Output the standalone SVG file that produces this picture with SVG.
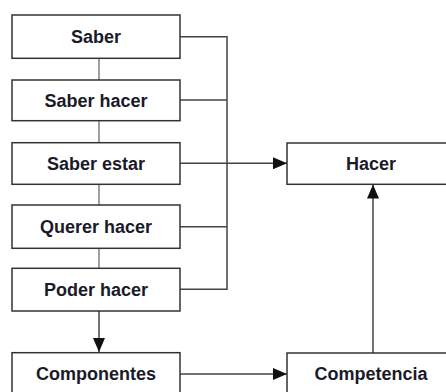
<svg xmlns="http://www.w3.org/2000/svg" width="446" height="392" viewBox="0 0 446 392">
<style>
.box{fill:#fff;stroke:#333;stroke-width:1.5}
.lbl{font-family:"Liberation Sans",Arial,sans-serif;font-weight:bold;font-size:18px;fill:#1a1a2a;text-anchor:middle}
.ln{fill:none;stroke:#444;stroke-width:1.5}
.chain{fill:none;stroke:#808080;stroke-width:1.5}
</style>
<defs>
<marker id="ah" viewBox="0 0 14 12" refX="14" refY="6" markerWidth="14" markerHeight="12" markerUnits="userSpaceOnUse" orient="auto">
<path d="M0,0 L14,6 L0,12 Z" fill="#111"/>
</marker>
</defs>
<rect width="446" height="392" fill="#fff"/>
<g id="connectors">
<path class="chain" d="M99,58.5 V80 M99,120.5 V142.5 M99,184.5 V205 M99,248.5 V268.5"/>
<path class="ln" d="M99,311 V352" marker-end="url(#ah)"/>
<path class="ln" d="M180,36.7 H227 V289.3 H180 M180,100 H227 M180,226.7 H227"/>
<path class="ln" d="M180,163.3 H287" marker-end="url(#ah)"/>
<path class="ln" d="M180,374 H287" marker-end="url(#ah)"/>
<path class="ln" d="M373,353 V184.5" marker-end="url(#ah)"/>
</g>
<g id="saber"><rect class="box" x="12" y="15" width="168" height="43.3"/><text class="lbl" x="96" y="43">Saber</text></g>
<g id="saber-hacer"><rect class="box" x="12" y="80" width="168" height="40.7"/><text class="lbl" x="96" y="107">Saber hacer</text></g>
<g id="saber-estar"><rect class="box" x="12" y="142.7" width="168" height="41.6"/><text class="lbl" x="96" y="170">Saber estar</text></g>
<g id="querer-hacer"><rect class="box" x="12" y="205" width="168" height="43.3"/><text class="lbl" x="96" y="233">Querer hacer</text></g>
<g id="poder-hacer"><rect class="box" x="12" y="268.3" width="168" height="42.7"/><text class="lbl" x="96" y="296">Poder hacer</text></g>
<g id="componentes"><rect class="box" x="12" y="352.7" width="168" height="45"/><text class="lbl" x="96" y="380">Componentes</text></g>
<g id="hacer"><rect class="box" x="287" y="143" width="170" height="41.3"/><text class="lbl" x="371" y="170">Hacer</text></g>
<g id="competencia"><rect class="box" x="287" y="353" width="170" height="45"/><text class="lbl" x="371" y="380">Competencia</text></g>
</svg>
